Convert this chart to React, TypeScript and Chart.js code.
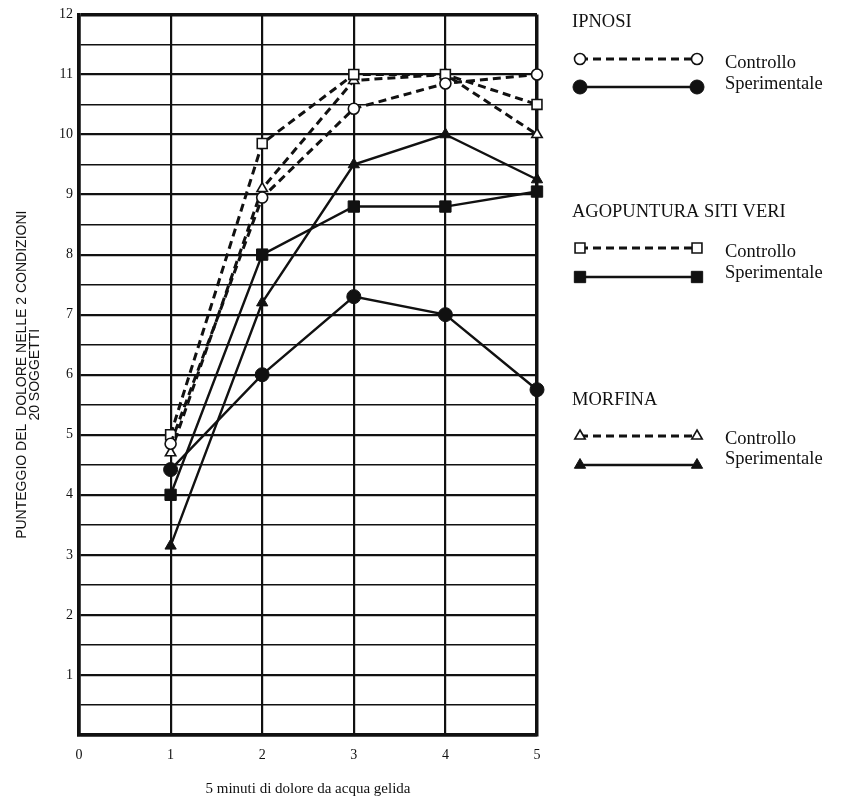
import React, { useEffect, useRef } from "react";
import { Chart, registerables } from "chart.js";
import { drawPoint } from "chart.js/helpers";

Chart.register(...registerables);

// ---- data ----
const minutes = [1, 2, 3, 4, 5];
const ipnosiControllo = [4.85, 8.95, 10.43, 10.85, 11.0];
const ipnosiSperimentale = [4.42, 6.0, 7.3, 7.0, 5.75];
const agopunturaControllo = [5.0, 9.85, 11.0, 11.0, 10.5];
const agopunturaSperimentale = [4.0, 8.0, 8.8, 8.8, 9.05];
const morfinaControllo = [4.7, 9.1, 10.9, 11.0, 10.0];
const morfinaSperimentale = [3.15, 7.2, 9.5, 10.0, 9.25];

const legendGroups = ["IPNOSI", "AGOPUNTURA SITI VERI", "MORFINA"];
const legendLabels = ["Controllo", "Sperimentale"];
const yTitle = ["PUNTEGGIO DEL  DOLORE NELLE 2 CONDIZIONI", "20 SOGGETTI"];
const xTitle = "5 minuti di dolore da acqua gelida";

const INK = "#111";
const SERIF = "'Liberation Serif', 'DejaVu Serif', serif";
const SANS = "'Liberation Sans', Arial, sans-serif";

const toPoints = (vals: number[]) => minutes.map((m, i) => ({ x: m, y: vals[i] }));

function controlSet(label: string, vals: number[], style: string, radius: number) {
  return {
    label,
    data: toPoints(vals),
    borderColor: INK,
    borderWidth: 3,
    borderDash: [8, 5],
    pointStyle: style,
    pointRadius: radius,
    pointBorderWidth: 1.6,
    pointBorderColor: INK,
    pointBackgroundColor: "#fff",
    tension: 0,
    clip: false,
  };
}
function expSet(label: string, vals: number[], style: string, radius: number) {
  return {
    label,
    data: toPoints(vals),
    borderColor: INK,
    borderWidth: 2.4,
    borderDash: [],
    pointStyle: style,
    pointRadius: radius,
    pointBorderWidth: 1,
    pointBorderColor: INK,
    pointBackgroundColor: INK,
    tension: 0,
    clip: false,
  };
}

// legend layout (pixels)
const LEG_TITLE_X = 572;
const LEG_LINE_X0 = 580;
const LEG_LINE_X1 = 697;
const LEG_TEXT_X = 725;
const LEG_FONT = 18.5;
const legTitleY = [22, 212, 400];
const legRowY = [[59, 87], [248, 277], [436, 465]];
const legTextY = [[63, 84], [252, 273], [439, 459]];

const sideLegend = {
  id: "sideLegend",
  afterDraw(chart: any) {
    const ctx = chart.ctx;
    const ds = chart.data.datasets;
    legendGroups.forEach((g, i) => {
      ctx.save();
      ctx.fillStyle = INK;
      ctx.font = `${LEG_FONT}px ${SERIF}`;
      ctx.textBaseline = "middle";
      ctx.textAlign = "left";
      ctx.fillText(g, LEG_TITLE_X, legTitleY[i]);
      [0, 1].forEach((k) => {
        const d = ds[i * 2 + k];
        const y = legRowY[i][k];
        ctx.beginPath();
        ctx.setLineDash(d.borderDash || []);
        ctx.lineWidth = d.borderWidth;
        ctx.strokeStyle = d.borderColor;
        ctx.moveTo(LEG_LINE_X0, y);
        ctx.lineTo(LEG_LINE_X1, y);
        ctx.stroke();
        ctx.setLineDash([]);
        [LEG_LINE_X0, LEG_LINE_X1].forEach((px) => {
          ctx.fillStyle = d.pointBackgroundColor;
          ctx.strokeStyle = d.pointBorderColor;
          ctx.lineWidth = d.pointBorderWidth;
          drawPoint(
            ctx,
            { pointStyle: d.pointStyle, radius: d.pointRadius, borderWidth: d.pointBorderWidth, rotation: 0 } as any,
            px,
            y
          );
        });
        ctx.fillStyle = INK;
        ctx.font = `${LEG_FONT}px ${SERIF}`;
        ctx.fillText(legendLabels[k], LEG_TEXT_X, legTextY[i][k]);
      });
      ctx.restore();
    });
  },
};

export default function App() {
  const ref = useRef<HTMLCanvasElement | null>(null);

  useEffect(() => {
    if (!ref.current) return;
    const chart = new Chart(ref.current, {
      type: "line",
      data: {
        datasets: [
          controlSet("IPNOSI Controllo", ipnosiControllo, "circle", 5.5),
          expSet("IPNOSI Sperimentale", ipnosiSperimentale, "circle", 7),
          controlSet("AGOPUNTURA Controllo", agopunturaControllo, "rect", 7),
          expSet("AGOPUNTURA Sperimentale", agopunturaSperimentale, "rect", 8),
          controlSet("MORFINA Controllo", morfinaControllo, "triangle", 6),
          expSet("MORFINA Sperimentale", morfinaSperimentale, "triangle", 6.5),
        ] as any,
      },
      options: {
        responsive: false,
        animation: false,
        events: [],
        clip: false,
        layout: { padding: { left: 0, top: 14, right: 317, bottom: 0 } },
        plugins: {
          legend: { display: false },
          tooltip: { enabled: false },
        },
        scales: {
          x: {
            type: "linear",
            min: 0,
            max: 5,
            offset: false,
            afterFit: (s: any) => {
              s.height = 73;
            },
            grid: {
              color: INK,
              drawTicks: false,
              lineWidth: (c: any) => (c.tick && (c.tick.value === 0 || c.tick.value === 5) ? 3.5 : 2.2),
            },
            border: { display: true, color: INK, width: 3.5 },
            ticks: {
              stepSize: 1,
              autoSkip: false,
              maxRotation: 0,
              padding: 12,
              color: INK,
              font: { family: SERIF, size: 14 },
              callback: (v: any) => String(v),
            },
            title: {
              display: true,
              text: xTitle,
              color: INK,
              font: { family: SERIF, size: 15, lineHeight: 1.2 },
              padding: { top: 0, bottom: 10 },
            },
          },
          y: {
            type: "linear",
            min: 0,
            max: 12,
            afterFit: (s: any) => {
              s.width = 79;
            },
            grid: {
              color: INK,
              drawTicks: false,
              lineWidth: (c: any) => {
                const v = c.tick ? c.tick.value : 0;
                if (v === 0 || v === 12) return 3.5;
                return Number.isInteger(v) ? 2.2 : 1.5;
              },
            },
            border: { display: true, color: INK, width: 3.5 },
            ticks: {
              stepSize: 0.5,
              autoSkip: false,
              padding: 6,
              color: INK,
              font: { family: SERIF, size: 14 },
              callback: (v: any) => (Number.isInteger(v) && v !== 0 ? String(v) : ""),
            },
            title: {
              display: true,
              text: yTitle,
              color: INK,
              font: { family: SANS, size: 14, lineHeight: 0.93 },
              padding: { top: 16, bottom: 0 },
            },
          },
        },
      } as any,
      plugins: [sideLegend],
    });
    return () => chart.destroy();
  }, []);

  return (
    <div style={{ position: "fixed", left: 0, top: 0, width: 854, height: 808, background: "#fff" }}>
      <canvas ref={ref} width={854} height={808} style={{ display: "block" }} />
    </div>
  );
}
